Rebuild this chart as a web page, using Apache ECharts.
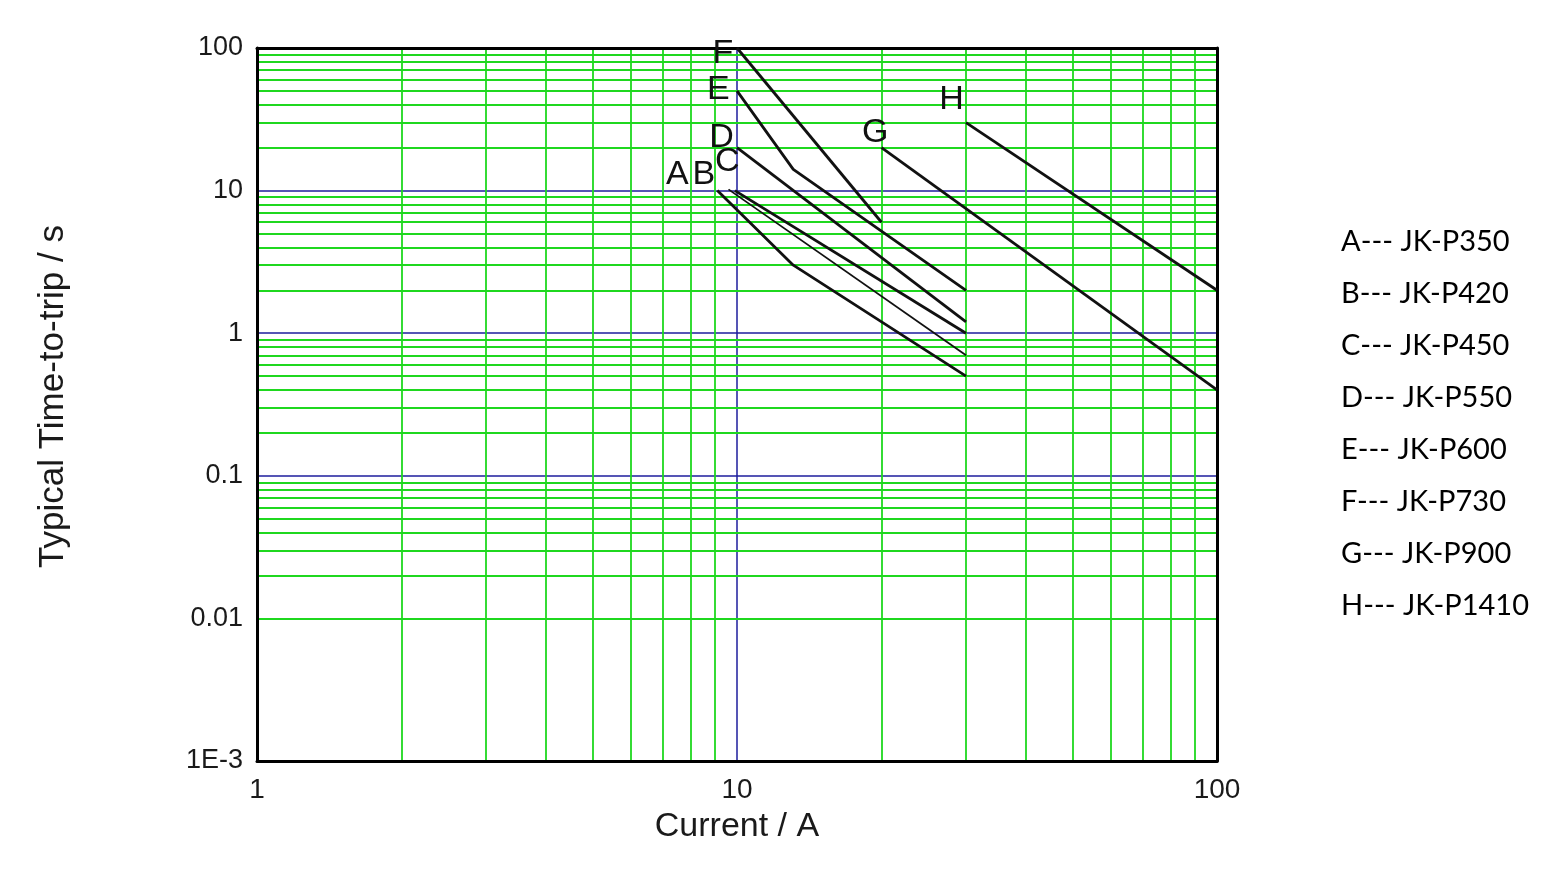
<!DOCTYPE html>
<html>
<head>
<meta charset="utf-8">
<script src="https://cdn.jsdelivr.net/npm/echarts@6/dist/echarts.min.js"></script>
<style>
html,body{margin:0;padding:0;background:#fff;}
#chart{width:1562px;height:872px;}
</style>
</head>
<body>
<div id="chart"></div>
<script>
// ---- data ----
const seriesA = [[9.1, 10], [13.1, 3], [30, 0.5]];
const seriesB = [[9.6, 10.2], [30, 0.7]];
const seriesC = [[9.9, 10], [30, 1.0]];
const seriesD = [[10, 20], [30, 1.2]];
const seriesE = [[10, 50], [13.1, 14.1], [30, 2]];
const seriesF = [[10, 100], [20, 6]];
const seriesG = [[20, 20], [100, 0.4]];
const seriesH = [[30, 30], [100, 2]];

const curveNames = ['A', 'B', 'C', 'D', 'E', 'F', 'G', 'H'];
const curveLabelPos = [[7.51, 13.0], [8.53, 13.0], [9.55, 15.9], [9.29, 23.5], [9.14, 51.3], [9.34, 91.8], [19.4, 25.5], [28.0, 43.2]];
const legendLines = ['A--- JK-P350', 'B--- JK-P420', 'C--- JK-P450', 'D--- JK-P550', 'E--- JK-P600', 'F--- JK-P730', 'G--- JK-P900', 'H--- JK-P1410'];

const xMinorTicks = [2, 3, 4, 5, 6, 7, 8, 9, 20, 30, 40, 50, 60, 70, 80, 90];
const yMinorMultipliers = [2, 3, 4, 5, 6, 7, 8, 9];
const yDecades = [0.001, 0.01, 0.1, 1, 10];
const yTickLabels = {'-3': '1E-3', '-2': '0.01', '-1': '0.1', '0': '1', '1': '10', '2': '100'};

// ---- build ----
const GREEN = '#1fd81f';
const BLUE = '#1c1c9c';
const INK = '#111';

const yMinorTicks = [];
yDecades.forEach(d => yMinorMultipliers.forEach(m => yMinorTicks.push(+(d * m).toPrecision(3))));

const chart = echarts.init(document.getElementById('chart'), null, {renderer: 'canvas'});

const lineSeries = [seriesA, seriesB, seriesC, seriesD, seriesE, seriesF, seriesG, seriesH].map((d, i) => ({
  type: 'line',
  name: curveNames[i],
  data: d,
  symbol: 'none',
  z: 6,
  clip: false,
  lineStyle: {color: INK, width: i === 1 ? 1.8 : 2.8}
}));

const borderAxisCommon = {
  axisLine: {show: true, onZero: false, lineStyle: {color: '#000', width: 3}},
  axisTick: {show: false},
  axisLabel: {show: false},
  splitLine: {show: false},
  z: 5
};

const option = {
  animation: false,
  backgroundColor: '#fff',
  grid: {left: 257, right: 345, top: 48, bottom: 111, containLabel: false},
  xAxis: [
    {
      type: 'log', logBase: 10, min: 1, max: 100, position: 'bottom',
      axisLine: {show: false, onZero: false},
      axisTick: {show: false},
      axisLabel: {show: true, margin: 15, color: '#1a1a1a', fontSize: 28, fontFamily: 'Liberation Sans, Arial, sans-serif',
        formatter: v => String(Math.round(v))},
      splitLine: {show: true, lineStyle: {color: BLUE, width: 1.5}},
      name: 'Current / A', nameLocation: 'middle', nameGap: 49,
      nameTextStyle: {fontSize: 34, color: '#1a1a1a', fontFamily: 'Liberation Sans, Arial, sans-serif'}
    },
    Object.assign({type: 'log', logBase: 10, min: 1, max: 100, position: 'bottom'}, borderAxisCommon),
    Object.assign({type: 'log', logBase: 10, min: 1, max: 100, position: 'top'}, borderAxisCommon)
  ],
  yAxis: [
    {
      type: 'log', logBase: 10, min: 0.001, max: 100, position: 'left',
      axisLine: {show: false, onZero: false},
      axisTick: {show: false},
      axisLabel: {show: true, margin: 14, color: '#1a1a1a', fontSize: 27, fontFamily: 'Liberation Sans, Arial, sans-serif',
        formatter: v => yTickLabels[String(Math.round(Math.log10(v)))] || ''},
      splitLine: {show: true, lineStyle: {color: BLUE, width: 1.5}},
      name: 'Typical Time-to-trip / s', nameLocation: 'middle', nameGap: 186, nameRotate: 90,
      nameTextStyle: {fontSize: 35, color: '#1a1a1a', fontFamily: 'Liberation Sans, Arial, sans-serif', padding: [0, 0, 0, 16]}
    },
    Object.assign({type: 'log', logBase: 10, min: 0.001, max: 100, position: 'left'}, borderAxisCommon),
    Object.assign({type: 'log', logBase: 10, min: 0.001, max: 100, position: 'right'}, borderAxisCommon)
  ],
  series: [
    {
      type: 'line', name: 'minorGrid', data: [], z: 1, silent: true,
      markLine: {
        silent: true, symbol: 'none', animation: false,
        label: {show: false},
        lineStyle: {color: GREEN, width: 1.8, type: 'solid', opacity: 1},
        emphasis: {disabled: true},
        data: xMinorTicks.map(v => ({xAxis: v})).concat(yMinorTicks.map(v => ({yAxis: v})))
      }
    },
    ...lineSeries,
    {
      type: 'scatter', name: 'labels', z: 7, symbolSize: 0, clip: false, silent: true,
      data: curveLabelPos.map((p, i) => ({value: p, name: curveNames[i]})),
      label: {show: true, position: 'inside', formatter: '{b}', fontSize: 34, color: '#111',
        textBorderWidth: 0, opacity: 1,
        fontFamily: 'Liberation Sans, Arial, sans-serif'}
    }
  ],
  graphic: legendLines.map((t, i) => ({
    type: 'text', left: 1341, top: 241 + 52 * i - 14,
    style: {text: t, fontSize: 29, fill: '#000', fontFamily: 'Lato, "Open Sans", sans-serif'}
  }))
};
chart.setOption(option);
</script>
</body>
</html>
